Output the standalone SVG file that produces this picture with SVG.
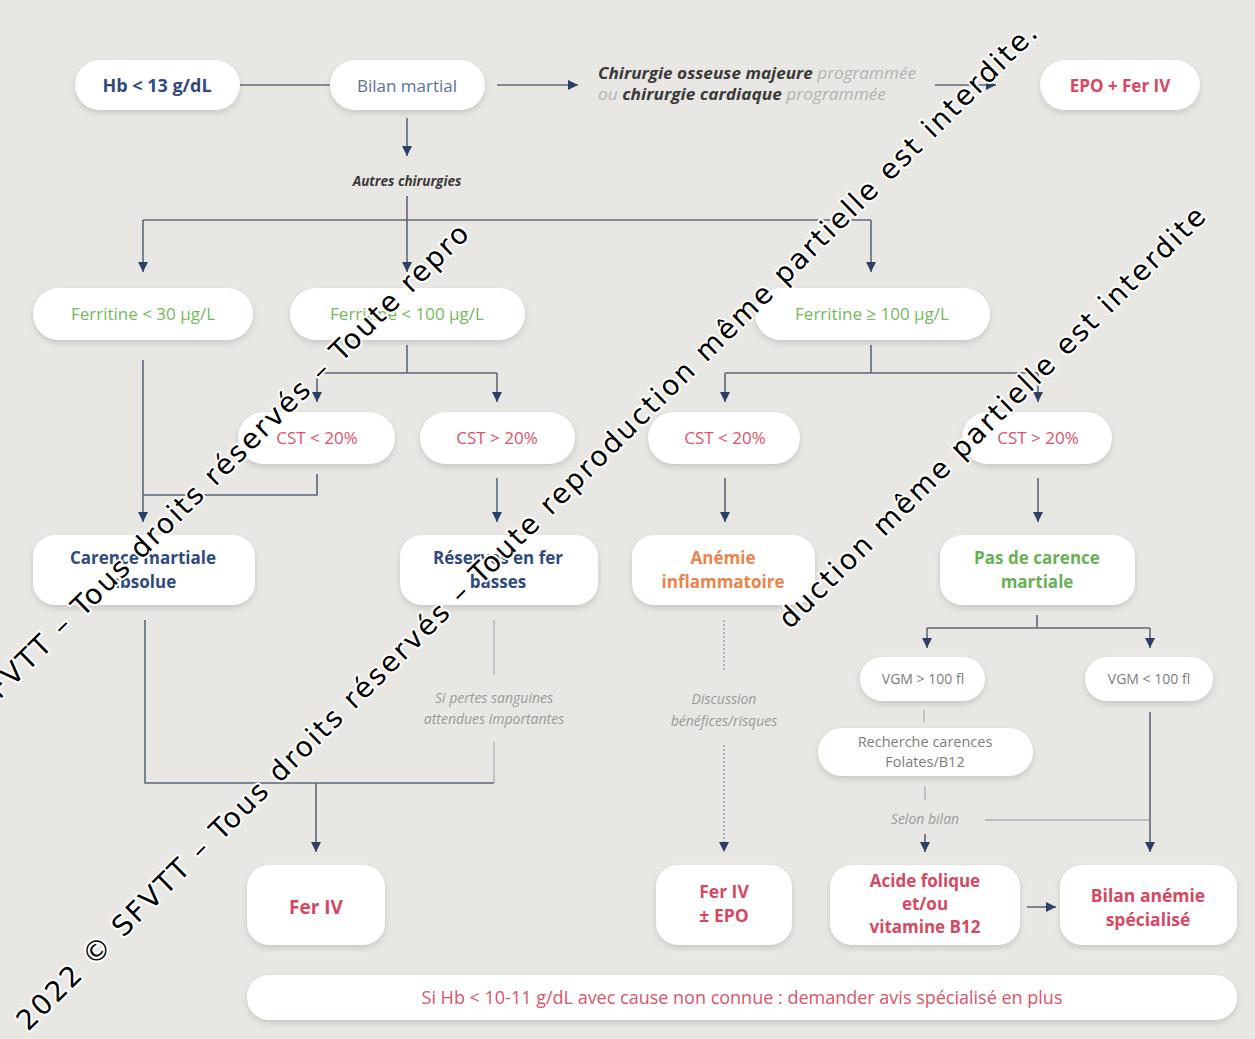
<svg xmlns="http://www.w3.org/2000/svg" width="1255" height="1039" viewBox="0 0 1255 1039">
<defs>
<style>
.bg{fill:#e9e7e3}
.box{fill:#fff;filter:url(#sh)}
.t{font-family:"Open Sans","Liberation Sans",sans-serif;text-anchor:middle}
.navy{fill:#2f4a7e;font-weight:700}
.navyr{fill:#5b6f9c}
.green{fill:#76b85e}
.greenb{fill:#69b155;font-weight:700}
.red{fill:#d9546a}
.redb{fill:#d64862;font-weight:700}
.orange{fill:#e8844c;font-weight:700}
.grey{fill:#7c7c7c}
.it{font-style:italic;fill:#9a9a9a}
.dk{font-weight:700;fill:#3a3a3a}
.lg{fill:#b3b3b3}
.ln{fill:none;stroke:#5e677a;stroke-width:1.6}
.lt{fill:none;stroke:#a9adb5;stroke-width:1.3}
.dt{fill:none;stroke:#9ea3ad;stroke-width:1.5;stroke-dasharray:2 2}
.ar{marker-end:url(#ah)}
.wm{font-family:"DejaVu Sans",sans-serif;font-size:28px;letter-spacing:2.3px;fill:#000;stroke:#fff;stroke-width:4;stroke-linejoin:round;paint-order:stroke}
</style>
<filter id="sh" x="-20%" y="-30%" width="140%" height="170%">
<feDropShadow dx="0" dy="3" stdDeviation="3" flood-color="#8a8a8a" flood-opacity="0.35"/>
</filter>
<marker id="ah" markerUnits="userSpaceOnUse" markerWidth="12" markerHeight="10" viewBox="0 0 12 10" refX="10" refY="5" orient="auto">
<path d="M0,0 L10,5 L0,10 Z" fill="#2c4066"/>
</marker>
</defs>
<rect class="bg" x="0" y="0" width="1255" height="1039"/>

<g id="connectors">
<path class="ln" d="M240 85 H330"/>
<path class="ln ar" d="M497 85 H578"/>
<path class="ln ar" d="M935 85 H996"/>
<path class="ln ar" d="M407 118 V156"/>
<path class="ln ar" d="M407 196 V272"/>
<path class="ln" d="M143 220 H871"/>
<path class="ln ar" d="M143 220 V272"/>
<path class="ln ar" d="M871 220 V272"/>
<path class="ln" d="M407 345 V373 M317 373 H497"/>
<path class="ln ar" d="M317 373 V402"/>
<path class="ln ar" d="M497 373 V402"/>
<path class="ln" d="M871 345 V373 M725 373 H1038"/>
<path class="ln ar" d="M725 373 V402"/>
<path class="ln ar" d="M1038 373 V402"/>
<path class="ln ar" d="M143 360 V522"/>
<path class="ln" d="M317 474 V495 H143"/>
<path class="ln ar" d="M497 478 V522"/>
<path class="ln ar" d="M725 478 V522"/>
<path class="ln ar" d="M1038 478 V522"/>
<path class="ln" d="M145 620 V783 H494"/>
<path class="lt" d="M494 620 V675 M494 742 V783"/>
<path class="ln ar" d="M316 783 V852"/>
<path class="dt" d="M724 620 V672"/>
<path class="dt ar" d="M724 745 V852"/>
<path class="ln" d="M1037 615 V628 M927 628 H1150"/>
<path class="ln ar" d="M927 628 V648"/>
<path class="ln ar" d="M1150 628 V648"/>
<path class="lt" d="M924 710 V722 M925 786 V800"/>
<path class="ln ar" d="M925 834 V852"/>
<path class="lt" d="M985 820 H1150"/>
<path class="ln ar" d="M1150 712 V852"/>
<path class="ln ar" d="M1027 907 H1056"/>
</g>

<g id="hb"><rect class="box" x="75" y="60" width="165" height="50" rx="25"/><text class="t navy" x="157" y="92" font-size="18">Hb &lt; 13 g/dL</text></g>
<g id="bilan"><rect class="box" x="330" y="60" width="155" height="50" rx="25"/><text class="t navyr" x="407" y="92" font-size="17">Bilan martial</text></g>
<g id="chir">
<text font-family="'Open Sans','Liberation Sans',sans-serif" font-size="15.5" font-style="italic" x="598" y="79" textLength="318" lengthAdjust="spacingAndGlyphs"><tspan class="dk">Chirurgie osseuse majeure</tspan><tspan class="lg"> programmée</tspan></text>
<text font-family="'Open Sans','Liberation Sans',sans-serif" font-size="15.5" font-style="italic" x="598" y="100" textLength="288" lengthAdjust="spacingAndGlyphs"><tspan class="lg">ou </tspan><tspan class="dk">chirurgie cardiaque</tspan><tspan class="lg"> programmée</tspan></text>
</g>
<g id="epo"><rect class="box" x="1040" y="60" width="160" height="50" rx="25"/><text class="t redb" x="1120" y="92" font-size="17">EPO + Fer IV</text></g>
<g id="autres"><text class="t dk" x="407" y="186" font-size="13.5" font-style="italic">Autres chirurgies</text></g>

<g id="f30"><rect class="box" x="33" y="288" width="220" height="52" rx="26"/><text class="t green" x="143" y="320" font-size="17">Ferritine &lt; 30 µg/L</text></g>
<g id="f100"><rect class="box" x="290" y="288" width="235" height="52" rx="26"/><text class="t green" x="407" y="320" font-size="17">Ferritine &lt; 100 µg/L</text></g>
<g id="f100p"><rect class="box" x="755" y="288" width="235" height="52" rx="26"/><text class="t green" x="872" y="320" font-size="17">Ferritine ≥ 100 µg/L</text></g>

<g id="cst1"><rect class="box" x="238" y="412" width="157" height="52" rx="26"/><text class="t red" x="317" y="444" font-size="17">CST &lt; 20%</text></g>
<g id="cst2"><rect class="box" x="420" y="412" width="155" height="52" rx="26"/><text class="t red" x="497" y="444" font-size="17">CST &gt; 20%</text></g>
<g id="cst3"><rect class="box" x="648" y="412" width="152" height="52" rx="26"/><text class="t red" x="725" y="444" font-size="17">CST &lt; 20%</text></g>
<g id="cst4"><rect class="box" x="962" y="412" width="150" height="52" rx="26"/><text class="t red" x="1038" y="444" font-size="17">CST &gt; 20%</text></g>

<g id="carence"><rect class="box" x="33" y="535" width="222" height="70" rx="22"/><text class="t navy" x="143" y="564" font-size="17">Carence martiale</text><text class="t navy" x="143" y="588" font-size="17">absolue</text></g>
<g id="reserves"><rect class="box" x="400" y="535" width="198" height="70" rx="22"/><text class="t navy" x="498" y="564" font-size="17">Réserves en fer</text><text class="t navy" x="498" y="588" font-size="17">basses</text></g>
<g id="anemie"><rect class="box" x="632" y="535" width="183" height="70" rx="22"/><text class="t orange" x="723" y="564" font-size="17">Anémie</text><text class="t orange" x="723" y="588" font-size="17">inflammatoire</text></g>
<g id="pasdecarence"><rect class="box" x="940" y="535" width="195" height="70" rx="22"/><text class="t greenb" x="1037" y="564" font-size="17">Pas de carence</text><text class="t greenb" x="1037" y="588" font-size="17">martiale</text></g>

<g id="pertes"><text class="t it" x="494" y="703" font-size="14">Si pertes sanguines</text><text class="t it" x="494" y="724" font-size="14">attendues importantes</text></g>
<g id="discussion"><text class="t it" x="724" y="704" font-size="14">Discussion</text><text class="t it" x="724" y="726" font-size="14">bénéfices/risques</text></g>

<g id="vgm1"><rect class="box" x="860" y="657" width="125" height="44" rx="22"/><text class="t grey" x="923" y="684" font-size="14">VGM &gt; 100 fl</text></g>
<g id="vgm2"><rect class="box" x="1085" y="657" width="128" height="44" rx="22"/><text class="t grey" x="1149" y="684" font-size="14">VGM &lt; 100 fl</text></g>
<g id="recherche"><rect class="box" x="818" y="728" width="215" height="48" rx="24"/><text class="t grey" x="925" y="747" font-size="14.5">Recherche carences</text><text class="t grey" x="925" y="767" font-size="14.5">Folates/B12</text></g>
<g id="selon"><text class="t it" x="925" y="824" font-size="14">Selon bilan</text></g>

<g id="feriv"><rect class="box" x="247" y="865" width="138" height="80" rx="22"/><text class="t redb" x="316" y="914" font-size="19">Fer IV</text></g>
<g id="ferivepo"><rect class="box" x="656" y="865" width="136" height="80" rx="22"/><text class="t redb" x="724" y="898" font-size="17.5">Fer IV</text><text class="t redb" x="724" y="922" font-size="17.5">± EPO</text></g>
<g id="acide"><rect class="box" x="830" y="865" width="190" height="80" rx="22"/><text class="t redb" x="925" y="887" font-size="17">Acide folique</text><text class="t redb" x="925" y="910" font-size="17">et/ou</text><text class="t redb" x="925" y="933" font-size="17">vitamine B12</text></g>
<g id="bilananemie"><rect class="box" x="1060" y="865" width="177" height="80" rx="22"/><text class="t redb" x="1148" y="902" font-size="17.5">Bilan anémie</text><text class="t redb" x="1148" y="926" font-size="17.5">spécialisé</text></g>

<g id="note"><rect class="box" x="247" y="975" width="990" height="45" rx="22"/><text class="t red" x="742" y="1004" font-size="18">Si Hb &lt; 10-11 g/dL avec cause non connue : demander avis spécialisé en plus</text></g>

<g id="watermark">
<text class="wm" x="28" y="1032" transform="rotate(-44.6 28 1032)" textLength="1420" lengthAdjust="spacing" style="letter-spacing:0">2022 © SFVTT – Tous droits réservés – Toute reproduction même partielle est interdite.</text>
<text class="wm" x="472" y="234" text-anchor="end" transform="rotate(-44.6 472 234)">2022 © SFVTT – Tous droits réservés – Toute repro</text>
<text class="wm" x="790" y="630" transform="rotate(-44.6 790 630)">duction même partielle est interdite</text>
</g>
</svg>
